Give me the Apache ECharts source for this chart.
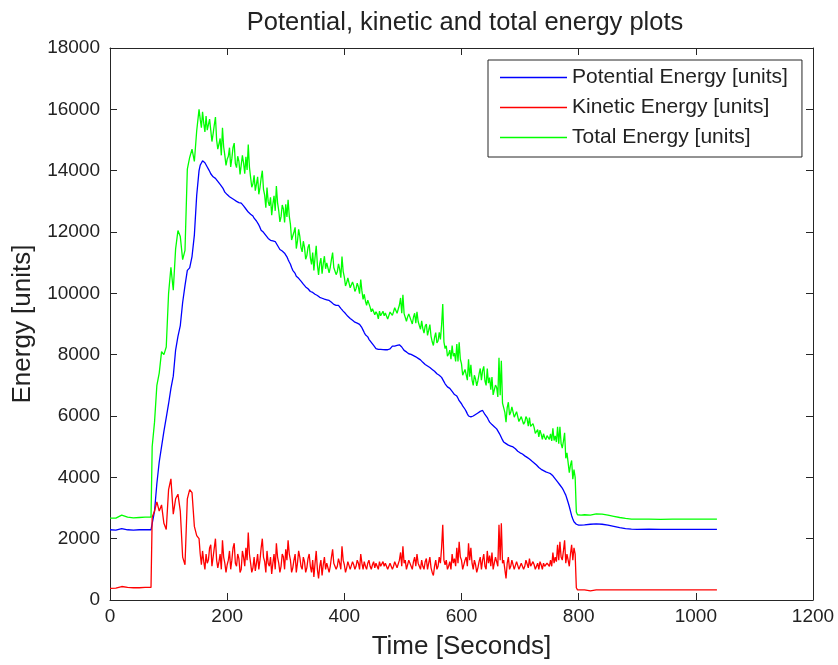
<!DOCTYPE html>
<html>
<head>
<meta charset="utf-8">
<script src="https://cdn.jsdelivr.net/npm/echarts@6/dist/echarts.min.js"></script>
<style>html,body{margin:0;padding:0;background:#fff}#c{width:838px;height:665px}</style>
</head>
<body>
<div id="c"></div>
<script>
// Time stamps (seconds)
var times = [
  0,10,20,30,40,50,60,70,
  72,76,80,84,88,92,96,100,104,108,
  112,116,120,124,128,132,136,140,144,148,
  152,154,156,158,160,162,164,166,168,170,
  172,174,176,178,180,182,184,186,188,190,
  192,194,196,198,200,202,204,206,208,210,
  212,214,216,218,220,222,224,226,228,230,
  232,234,236,238,240,242,244,246,248,250,
  252,254,256,258,260,262,264,266,268,270,
  272,274,276,278,280,282,284,286,288,290,
  292,294,296,298,300,302,304,306,308,310,
  312,314,316,318,320,322,324,326,328,330,
  332,334,336,338,340,342,344,346,348,350,
  352,354,356,358,360,362,364,366,368,370,
  372,374,376,378,380,382,384,386,388,390,
  392,394,396,398,400,402,404,406,408,410,
  412,414,416,418,420,422,424,426,428,430,
  432,434,436,438,440,442,444,446,448,450,
  452,454,456,458,460,462,464,466,468,470,
  472,474,476,478,480,482,484,486,488,490,
  492,494,496,498,500,502,504,506,508,510,
  512,514,516,518,520,522,524,526,528,530,
  532,534,536,538,540,542,544,546,548,550,
  552,554,556,558,560,562,564,566,568,570,
  572,574,576,578,580,582,584,586,588,590,
  592,594,596,598,600,602,604,606,608,610,
  612,614,616,618,620,622,624,626,628,630,
  632,634,636,638,640,642,644,646,648,650,
  652,654,656,658,660,662,664,666,668,670,
  672,674,676,678,680,682,684,686,688,690,
  692,694,696,698,700,702,704,706,708,710,
  712,714,716,718,720,722,724,726,728,730,
  732,734,736,738,740,742,744,746,748,750,
  752,754,756,758,760,762,764,766,768,770,
  772,774,776,778,780,782,784,786,788,790,
  792,794,796,798,800,
  804,810,820,830,840,850,860,870,880,890,900,920,940,960,980,1000,1020,1036
];
// Potential energy [units]
var potential = [
  2290,2280,2330,2290,2280,2290,2290,2290,
  2300,2900,3800,4500,5000,5500,5950,6400,6900,7300,
  8150,8600,8950,9700,10250,10750,10830,11200,11900,13200,
  14000,14180,14250,14320,14300,14260,14280,14120,14050,13980,
  13900,13850,13800,13790,13750,13700,13650,13620,13550,13500,
  13450,13380,13300,13270,13220,13170,13150,13120,13100,13060,
  13050,13030,13000,12970,12960,12980,12940,12900,12850,12800,
  12750,12720,12650,12620,12580,12560,12520,12450,12400,12360,
  12300,12230,12150,12060,12000,11990,11950,11890,11850,11790,
  11750,11730,11700,11710,11680,11690,11650,11560,11500,11430,
  11400,11380,11350,11310,11250,11190,11100,11020,10950,10840,
  10750,10700,10650,10560,10500,10490,10460,10400,10350,10300,
  10250,10210,10180,10150,10100,10060,10040,10030,10000,9970,
  9950,9930,9900,9870,9850,9840,9820,9810,9800,9790,
  9780,9770,9750,9710,9680,9640,9620,9610,9600,9610,
  9590,9510,9450,9420,9380,9340,9300,9250,9220,9180,
  9150,9120,9100,9060,9050,9030,9010,8990,8950,8880,
  8800,8720,8650,8610,8580,8500,8450,8400,8350,8300,
  8250,8200,8180,8170,8170,8170,8165,8165,8165,8160,
  8160,8160,8165,8190,8230,8280,8300,8280,8270,8300,
  8310,8320,8300,8250,8200,8140,8100,8090,8080,8030,
  8000,8010,8000,7970,7950,7930,7900,7880,7850,7830,
  7800,7750,7700,7680,7650,7630,7600,7580,7550,7520,
  7500,7460,7420,7380,7350,7330,7300,7260,7200,7120,
  7050,6990,6950,6920,6900,6850,6800,6750,6700,6680,
  6650,6580,6500,6450,6400,6330,6280,6220,6150,6070,
  6000,5980,5970,5980,6000,6030,6050,6080,6100,6120,
  6150,6170,6180,6120,6050,6000,5950,5870,5800,5760,
  5720,5690,5650,5610,5580,5520,5450,5380,5300,5220,
  5150,5120,5100,5070,5050,5030,5020,5000,4990,4960,
  4930,4890,4850,4820,4800,4780,4760,4730,4700,4680,
  4650,4620,4600,4560,4530,4500,4470,4430,4400,4360,
  4320,4290,4260,4240,4220,4200,4180,4160,4150,4140,
  4120,4090,4050,4000,3950,3900,3850,3800,3750,3700,
  3650,3580,3500,3420,3300,3180,3050,2900,2750,2640,
  2550,2500,2470,2450,2440,
  2440,2450,2470,2480,2470,2440,2400,2360,2330,2310,2305,2310,2300,2305,2305,2305,2305,2305
];
// Kinetic energy [units]
var kinetic = [
  380,390,440,410,400,400,410,410,
  2700,2900,3200,2900,3100,2500,2300,3600,3950,2800,
  3300,3450,2900,1400,1150,3300,3600,3500,2400,2100,
  2000,1500,1150,1600,1250,1000,1500,1200,1300,1700,
  1800,1100,1400,1700,2000,1300,1050,1250,1500,1000,
  1950,1400,1200,900,1150,1300,1600,1000,1300,1700,
  1850,1200,1100,1500,1350,900,1000,1600,1400,1100,
  1700,1300,2200,1500,1200,900,1050,1400,950,1200,
  1500,1000,1300,1700,2000,1400,1250,900,1600,1200,
  1100,1400,850,1200,1500,1000,1850,1400,1200,900,
  1100,1500,1400,1000,1650,1300,1950,1500,1300,900,
  1050,1300,1500,900,1200,1600,1400,1100,1000,1400,
  1250,900,1050,1350,1500,1100,900,1300,750,1200,
  1600,1000,700,1100,1300,800,1150,1400,1000,1200,
  1250,900,1100,1400,1650,1200,1200,1000,1100,1350,
  1200,1000,1750,1300,1150,900,1050,1250,1300,1000,
  1050,1250,1150,1000,1100,1300,1200,1000,1500,1200,
  1000,1250,1100,1000,1200,1300,1100,1000,1150,1250,
  1050,1200,1150,1000,1250,1100,1100,1250,1100,1200,
  1200,1000,1050,1200,1150,1000,1100,1250,1200,1050,
  1100,1300,1550,1100,1750,1200,1300,1000,1150,1300,
  1350,1100,1000,1250,1400,1100,1500,1200,1100,1000,
  1300,1100,1000,1250,1350,1000,1200,1400,1050,900,
  800,1100,1300,1000,1100,1400,1200,1700,2450,1300,
  1150,1300,1000,1100,1250,1000,1500,1200,1350,1100,
  1700,1200,1900,1400,1300,1000,1050,1300,1400,1100,
  1850,1300,1700,1200,1000,1300,1150,900,1050,1250,
  1400,1000,1300,1500,1100,1000,1600,1200,1450,1100,
  1550,1000,1200,1400,1350,1100,2450,1300,2500,1200,
  1300,1000,700,1200,1400,1000,1100,1300,1300,1000,
  1050,1250,1250,1000,1000,1200,1200,1000,1100,1300,
  1250,1050,1350,1100,1100,1250,1150,1000,1050,1200,
  1000,1250,1150,1000,1200,1100,1050,1200,1250,1100,
  1300,1100,1550,1200,1400,1250,1800,1300,1900,1400,
  1300,1600,1950,1200,1500,1300,1100,1500,1800,1300,
  1700,1500,400,330,330,
  330,330,300,330,330,330,330,330,330,330,330,330,330,330,330,330,330,330
];
var seriesNames = ['Potential Energy [units]','Kinetic Energy [units]','Total Energy [units]'];
var xTicks = [0,200,400,600,800,1000,1200];
var yTicks = [0,2000,4000,6000,8000,10000,12000,14000,16000,18000];

// Total energy is the sum of potential and kinetic energy at each time
var total = potential.map(function(p,i){ return p + kinetic[i]; });

function pairs(arr){ return times.map(function(t,i){ return [t, arr[i]]; }); }

var FONT = '"Liberation Sans", Arial, sans-serif';
var AX = '#262626';
var chart = echarts.init(document.getElementById('c'), null, {renderer:'canvas'});

function boxAxis(extra){
  return Object.assign({
    type:'value', splitLine:{show:false},
    axisLine:{show:true, onZero:false, lineStyle:{color:AX, width:1}},
    axisTick:{show:true, inside:true, length:7, lineStyle:{color:AX}}
  }, extra);
}
function plain(v){ return String(v); }

chart.setOption({
  animation:false,
  backgroundColor:'#fff',
  title:{
    text:'Potential, kinetic and total energy plots',
    left:460, top:5, textAlign:'center',
    textStyle:{fontFamily:FONT, fontSize:25.5, fontWeight:'normal', color:'#222'}
  },
  grid:{left:110, right:25, top:48, bottom:63, containLabel:false},
  legend:{
    orient:'vertical', left:488, top:60,
    padding:[7,14,9,12], itemWidth:67, itemHeight:1.5, itemGap:9,
    icon:'rect',
    backgroundColor:'#fff', borderColor:AX, borderWidth:1,
    textStyle:{fontFamily:FONT, fontSize:21, color:'#222'},
    data:seriesNames
  },
  xAxis:[
    boxAxis({position:'bottom', min:xTicks[0], max:xTicks[xTicks.length-1], interval:200,
      name:'Time [Seconds]', nameLocation:'middle', nameGap:34,
      nameTextStyle:{fontFamily:FONT, fontSize:26, color:'#222'},
      axisLabel:{fontFamily:FONT, fontSize:19, color:'#222', margin:7, formatter:plain}}),
    boxAxis({position:'top', min:xTicks[0], max:xTicks[xTicks.length-1], interval:200,
      axisLabel:{show:false}})
  ],
  yAxis:[
    boxAxis({position:'left', min:yTicks[0], max:yTicks[yTicks.length-1], interval:2000,
      name:'Energy [units]', nameLocation:'middle', nameGap:71,
      nameTextStyle:{fontFamily:FONT, fontSize:26, color:'#222'},
      axisLabel:{fontFamily:FONT, fontSize:19, color:'#222', margin:10, formatter:plain}}),
    boxAxis({position:'right', min:yTicks[0], max:yTicks[yTicks.length-1], interval:2000,
      axisLabel:{show:false}})
  ],
  series:[
    {name:seriesNames[0], type:'line', data:pairs(potential), symbol:'none',
     lineStyle:{color:'#0000ff', width:1.3}, itemStyle:{color:'#0000ff'}},
    {name:seriesNames[1], type:'line', data:pairs(kinetic), symbol:'none',
     lineStyle:{color:'#ff0000', width:1.3}, itemStyle:{color:'#ff0000'}},
    {name:seriesNames[2], type:'line', data:pairs(total), symbol:'none',
     lineStyle:{color:'#00ff00', width:1.3}, itemStyle:{color:'#00ff00'}}
  ]
});
</script>
</body>
</html>
